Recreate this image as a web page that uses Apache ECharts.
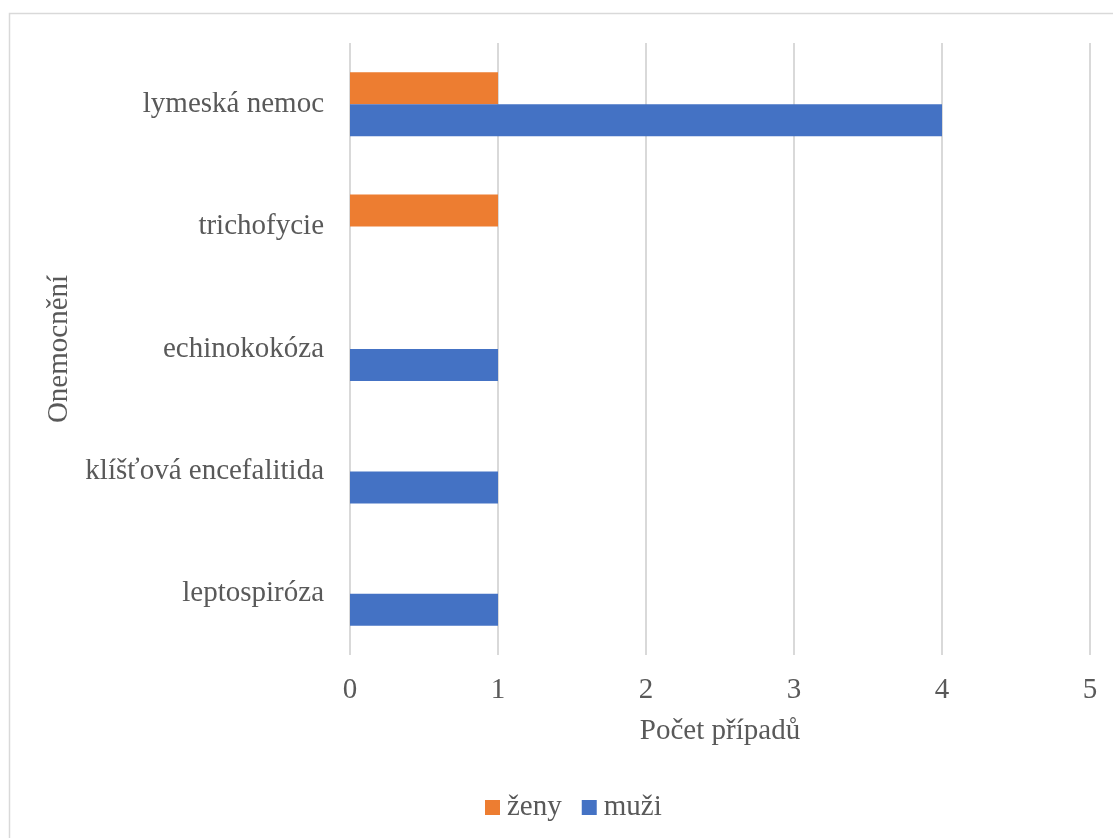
<!DOCTYPE html>
<html>
<head>
<meta charset="utf-8">
<script src="https://cdn.jsdelivr.net/npm/echarts@6/dist/echarts.min.js"></script>
<style>
  html, body { margin: 0; padding: 0; background: #fff; }
  #chart { width: 1113px; height: 838px; }
</style>
</head>
<body>
<div id="chart"></div>
<script>
var categories = ['leptospiróza', 'klíšťová encefalitida', 'echinokokóza', 'trichofycie', 'lymeská nemoc'];
var zeny = [0, 0, 0, 1, 1];
var muzi = [1, 1, 1, 0, 4];
var xTicks = [0, 1, 2, 3, 4, 5];

var font = '"Liberation Serif", "DejaVu Serif", serif';
var chart = echarts.init(document.getElementById('chart'));

var option = {
  animation: false,
  textStyle: { fontFamily: font },
  graphic: [{
    type: 'rect',
    shape: { x: 9.5, y: 13.5, width: 1120, height: 840 },
    style: { fill: 'none', stroke: '#d9d9d9', lineWidth: 1.5 },
    silent: true
  }],
  legend: {
    data: ['ženy', 'muži'],
    left: 480,
    top: 788,
    itemWidth: 15,
    itemHeight: 15,
    itemGap: 20,
    icon: 'rect',
    textStyle: { fontFamily: font, fontSize: 29, color: '#595959', padding: [0, 0, 0, 2] }
  },
  grid: {
    left: 350,
    right: 23,
    top: 43,
    bottom: 183,
    containLabel: false
  },
  xAxis: {
    type: 'value',
    min: 0,
    max: 5,
    interval: 1,
    name: 'Počet případů',
    nameLocation: 'middle',
    nameGap: 62,
    nameTextStyle: { fontFamily: font, fontSize: 29, color: '#595959' },
    axisLine: { show: false },
    axisTick: { show: false },
    axisLabel: {
      fontFamily: font, fontSize: 29, color: '#595959', margin: 21,
      formatter: function (v) { return xTicks.indexOf(v) >= 0 ? String(v) : ''; }
    },
    splitLine: { show: true, lineStyle: { color: '#d9d9d9', width: 2 } }
  },
  yAxis: {
    type: 'category',
    data: categories,
    name: 'Onemocnění',
    nameLocation: 'middle',
    nameGap: 276,
    nameRotate: 90,
    nameTextStyle: { fontFamily: font, fontSize: 29, color: '#595959' },
    axisLine: { show: false },
    axisTick: { show: false },
    axisLabel: { fontFamily: font, fontSize: 29, color: '#595959', margin: 26 },
    splitLine: { show: false }
  },
  series: [
    {
      name: 'ženy',
      type: 'bar',
      data: zeny,
      barWidth: 32,
      barGap: '0%',
      itemStyle: { color: '#ED7D31' }
    },
    {
      name: 'muži',
      type: 'bar',
      data: muzi,
      barWidth: 32,
      barGap: '0%',
      itemStyle: { color: '#4472C4' }
    }
  ]
};

chart.setOption(option);
window.addEventListener('resize', function () {
  chart.resize();
});
</script>
</body>
</html>
